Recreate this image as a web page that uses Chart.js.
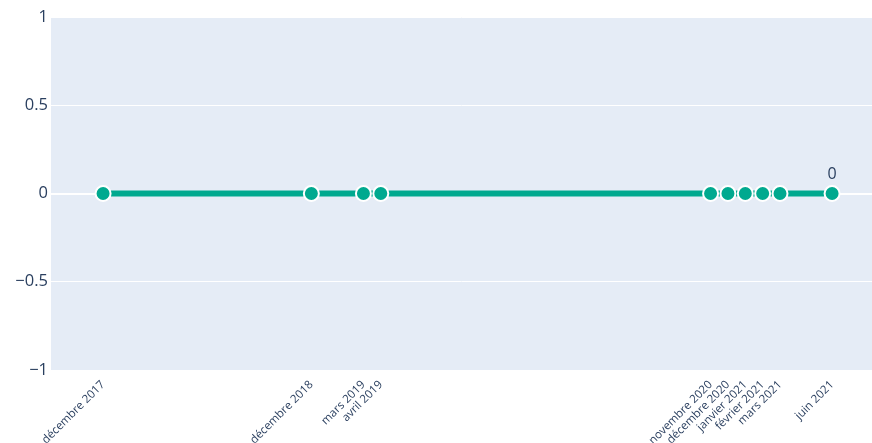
<!DOCTYPE html>
<html>
<head>
<meta charset="utf-8">
<script src="https://cdn.jsdelivr.net/npm/chart.js@4/dist/chart.umd.min.js"></script>
<style>
    html, body { margin: 0; padding: 0; background: #fff; }
    #wrap { width: 872px; height: 443px; }
</style>
</head>
<body>
<div id="wrap"><canvas id="chart"></canvas></div>
<script>
const monthNames = ['janvier', 'février', 'mars', 'avril', 'mai', 'juin', 'juillet', 'août', 'septembre', 'octobre', 'novembre', 'décembre'];
const dates = ['2017-12', '2018-12', '2019-03', '2019-04', '2020-11', '2020-12', '2021-01', '2021-02', '2021-03', '2021-06'];
const values = [0, 0, 0, 0, 0, 0, 0, 0, 0, 0];
const yTicks = [-1, -0.5, 0, 0.5, 1];

// months counted from the first date, so the x axis is spaced in time
const toMonth = d => { const [y, m] = d.split('-').map(Number); return y * 12 + (m - 1); };
const base = toMonth(dates[0]);
const xs = dates.map(d => toMonth(d) - base);
const labels = dates.map(d => { const [y, m] = d.split('-').map(Number); return monthNames[m - 1] + ' ' + y; });

const fontColor = '#2a3f5f';
const fmt = v => (v < 0 ? '\u2212' + Math.abs(v) : String(v));

const bgPlugin = {
    id: 'plotBg',
    beforeDraw(chart) {
        const { ctx, chartArea: a } = chart;
        ctx.save();
        ctx.fillStyle = '#e5ecf6';
        ctx.fillRect(a.left, a.top, a.right - a.left, a.bottom - a.top);
        ctx.restore();
    }
};

const lastLabel = {
    id: 'lastLabel',
    afterDatasetsDraw(chart) {
        const meta = chart.getDatasetMeta(0);
        const p = meta.data[meta.data.length - 1];
        const ctx = chart.ctx;
        ctx.save();
        ctx.font = '16px "Open Sans"';
        ctx.fillStyle = fontColor;
        ctx.textAlign = 'center';
        ctx.textBaseline = 'alphabetic';
        ctx.fillText(fmt(values[values.length - 1]), p.x, p.y - 15);
        ctx.restore();
    }
};

new Chart(document.getElementById('chart'), {
    type: 'line',
    data: {
        datasets: [{
            data: xs.map((x, i) => ({ x: x, y: values[i] })),
            borderColor: '#00a98f',
            backgroundColor: '#00a98f',
            borderWidth: 6,
            pointRadius: 7.5,
            pointBorderWidth: 2,
            pointBorderColor: '#ffffff',
            pointBackgroundColor: '#00a98f',
            tension: 0
        }]
    },
    options: {
        responsive: true,
        maintainAspectRatio: false,
        animation: false,
        layout: { autoPadding: false, padding: { top: 17, right: 0, left: 0, bottom: 0 } },
        plugins: { legend: { display: false }, tooltip: { enabled: false } },
        scales: {
            x: {
                type: 'linear',
                min: -3,
                max: 44.3,
                grid: { display: false },
                border: { display: false },
                afterBuildTicks: axis => { axis.ticks = xs.map(v => ({ value: v })); },
                afterFit: axis => { axis.height = 73; axis.paddingLeft = 0; axis.paddingRight = 0; },
                ticks: {
                    autoSkip: false,
                    minRotation: 45,
                    maxRotation: 45,
                    padding: 0,
                    color: fontColor,
                    font: { family: '"Open Sans"', size: 11.5 },
                    callback: v => labels[xs.indexOf(v)] || ''
                }
            },
            y: {
                min: -1,
                max: 1,
                afterBuildTicks: axis => { axis.ticks = yTicks.map(v => ({ value: v })); },
                afterFit: axis => { axis.width = 51; },
                grid: {
                    color: '#ffffff',
                    lineWidth: ctx => (ctx.tick && ctx.tick.value === 0 ? 2 : 1),
                    drawTicks: false
                },
                border: { display: false },
                ticks: {
                    padding: 3,
                    color: fontColor,
                    font: { family: '"Open Sans"', size: 16.5 },
                    callback: v => fmt(v)
                }
            }
        }
    },
    plugins: [bgPlugin, lastLabel]
});
</script>
</body>
</html>
